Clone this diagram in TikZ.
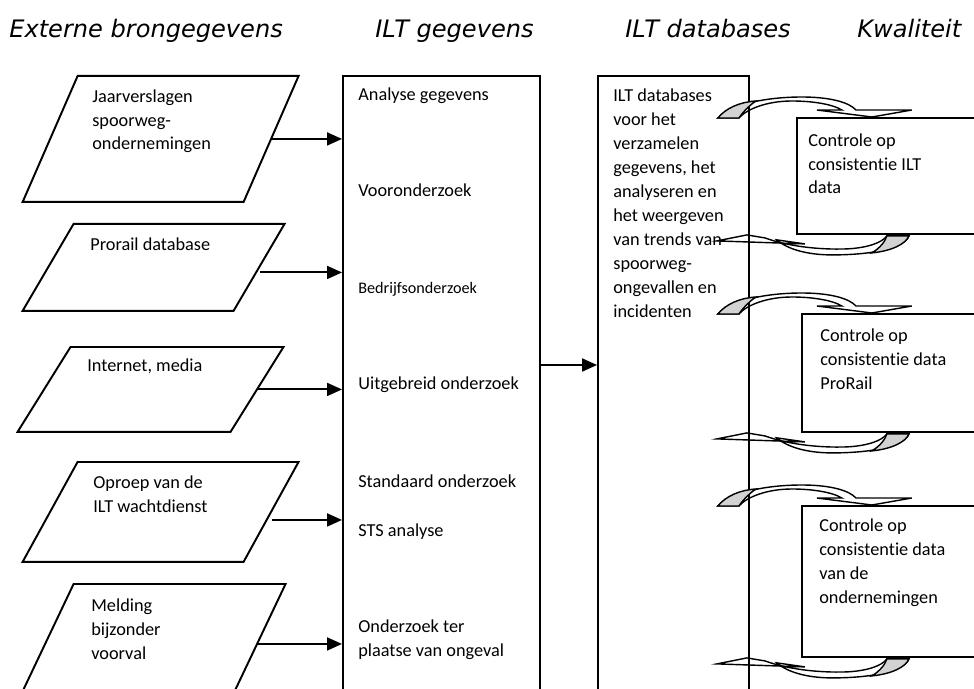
\documentclass[tikz,border=0pt]{standalone}
\usepackage{fontspec}
\setmainfont{Carlito}[Ligatures=NoCommon]
\newfontfamily\kopfont{DejaVu Sans}
\usetikzlibrary{shapes.geometric,arrows.meta}

\begin{document}
\begin{tikzpicture}[x=0.02cm, y=-0.02cm,
    kop/.style={font=\kopfont\itshape\fontsize{13.7}{16}\selectfont, anchor=base west, inner sep=0},
    bron/.style={trapezium, draw, line width=1.1pt, inner sep=0, text depth=0pt,
        anchor=top left corner},
    kolom/.style={rectangle, draw, line width=1.1pt, anchor=north west, inner sep=0,
        minimum height=13cm},
    controle/.style={rectangle, draw, line width=1.1pt, anchor=north west, inner sep=0,
        minimum width=4cm},
    tekst/.style={font=\fontsize{10.4}{13.6}\selectfont, align=left, anchor=base west, inner sep=0},
    klein/.style={tekst, font=\fontsize{9.2}{12}\selectfont},
    pijl/.style={line width=1.1pt, -{Triangle[length=0.3cm,width=0.26cm]}},
    boogheen/.pic={
        \draw[line width=0.8pt] (-32,1) .. controls (-18,-13) and (17,-20) .. (52,-20)
            .. controls (82,-20) and (100,-14) .. (106,-7) -- (162,-7) -- (122,0) -- (67,-7)
            -- (92,-7) .. controls (82,-13) and (62,-16) .. (42,-16)
            .. controls (17,-16) and (-3,-8) .. (-11,1) -- cycle;
        \filldraw[fill=gray!35, line width=0.8pt] (-32,1) .. controls (-24,-9) and (-10,-15) .. (6,-16)
            .. controls (0,-12) and (-7,-5) .. (-11,1) -- cycle;
    },
    boogterug/.pic={
        \draw[line width=0.8pt] (-33,6) -- (-3,0) -- (15,3) .. controls (37,11) and (67,15) .. (97,14)
            .. controls (117,13) and (132,8) .. (137,1) -- (159,1)
            .. controls (155,12) and (127,20) .. (82,20) .. controls (57,20) and (37,14) .. (27,5)
            -- (55,9) -- cycle;
        \filldraw[fill=gray!35, line width=0.8pt] (137,1) -- (159,1) .. controls (156,9) and (142,16) .. (122,18)
            .. controls (130,13) and (135,7) .. (137,1) -- cycle;
    }
]
\clip (0,0) rectangle (974,689);

\node (KopBron) [kop] at (9,38) {Externe brongegevens};
\node (KopGegevens) [kop] at (375,38) {ILT gegevens};
\node (KopDatabases) [kop] at (625,38) {ILT databases};
\node (KopKwaliteit) [kop] at (857,38) {Kwaliteit};

\node (Bron01) [bron, trapezium left angle=66.42, trapezium right angle=113.58,
    text width=3.32cm, text height=2.52cm] at (77,75) {};
\node (Bron02) [bron, trapezium left angle=59.62, trapezium right angle=120.38,
    text width=3.2cm, text height=1.74cm] at (73,223) {};
\node (Bron03) [bron, trapezium left angle=58.05, trapezium right angle=121.95,
    text width=3.2cm, text height=1.7cm] at (70,346) {};
\node (Bron04) [bron, trapezium left angle=61.19, trapezium right angle=118.81,
    text width=3.32cm, text height=2cm] at (77,461) {};
\node (Bron05) [bron, trapezium left angle=64.59, trapezium right angle=115.41,
    text width=3.1cm, text height=2.4cm] at (73,583) {};

\node (Tekst01) [tekst] at (92,150) {Jaarverslagen\\spoorweg-\\ondernemingen};
\node (Tekst02) [tekst] at (90,251) {Prorail database};
\node (Tekst03) [tekst] at (87,372) {Internet, media};
\node (Tekst04) [tekst] at (93,512) {Oproep van de\\ILT wachtdienst};
\node (Tekst05) [tekst] at (91,659) {Melding\\bijzonder\\voorval};

\node (Gegevens) [kolom, minimum width=3.94cm] at (342,75) {};
\node (Analyse) [tekst] at (358,101) {Analyse gegevens};
\node (Vooronderzoek) [tekst] at (358,197) {Vooronderzoek};
\node (Bedrijf) [klein] at (358,294) {Bedrijfsonderzoek};
\node (Uitgebreid) [tekst] at (358,389) {Uitgebreid onderzoek};
\node (Standaard) [tekst] at (358,487) {Standaard onderzoek};
\node (STS) [tekst] at (358,536) {STS analyse};
\node (Plaats) [tekst] at (358,656) {Onderzoek ter\\plaatse van ongeval};

\node (Databases) [kolom, minimum width=3.02cm] at (597,75) {};
\node (DatabaseTekst) [tekst] at (613,317) {ILT databases\\voor het\\verzamelen\\gegevens, het\\analyseren en\\het weergeven\\van trends van\\spoorweg-\\ongevallen en\\incidenten};

\node (Kwaliteit01) [controle, minimum height=2.32cm] at (796,117) {};
\node (Kwaliteit02) [controle, minimum height=2.36cm] at (801,313) {};
\node (Kwaliteit03) [controle, minimum height=3.02cm] at (801,505) {};
\node (Controle01) [tekst] at (808,194) {Controle op\\consistentie ILT\\data};
\node (Controle02) [tekst] at (820,389) {Controle op\\consistentie data\\ProRail};
\node (Controle03) [tekst] at (819,603) {Controle op\\consistentie data\\van de\\ondernemingen};

\coordinate (Midden) at (0,365);
\foreach \n/\dy in {01/0cm,02/-0.1cm,03/0cm,04/-0.16cm,05/0cm}
    \draw[pijl] ([yshift=\dy]Bron\n.east) -- ([yshift=\dy]Bron\n.east -| Gegevens.west);
\draw[pijl] (Gegevens.east |- Midden) -- (Databases.west |- Midden);

\foreach \n in {01,02,03} {
    \pic at (Databases.east |- Kwaliteit\n.north) {boogheen};
    \pic at (Databases.east |- Kwaliteit\n.south) {boogterug};
}
\end{tikzpicture}
\end{document}
